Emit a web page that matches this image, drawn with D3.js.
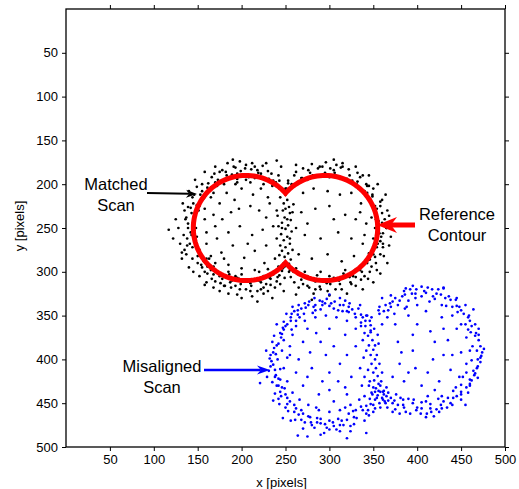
<!DOCTYPE html>
<html>
<head>
<meta charset="utf-8">
<script src="https://cdn.jsdelivr.net/npm/d3@7"></script>
<style>
  body { margin: 0; background: #fff; }
  text { font-family: "Liberation Sans", Arial, Helvetica, sans-serif; }
</style>
</head>
<body>
<svg id="chart" width="519" height="489"></svg>
<script>
// tick values on both axes
const xTicks = [50, 100, 150, 200, 250, 300, 350, 400, 450, 500];
const yTicks = [50, 100, 150, 200, 250, 300, 350, 400, 450, 500];

// reference contour: two overlapping circles [cx, cy, r]
const contourCircles = [[205, 250, 60], [295, 250, 60]];

// matched scan points [x, y]
const matchedScan = [
  [249,294],[246,299],[242,294],[243,304],[236,303],[240,311],[232,307],[225,305],[228,314],[222,312],
  [216,310],[218,322],[211,316],[205,310],[205,320],[199,314],[195,307],[193,316],[189,310],[181,316],
  [186,303],[178,308],[175,302],[170,311],[168,303],[168,294],[161,302],[161,294],[154,292],[163,285],
  [156,284],[144,285],[150,282],[152,275],[144,272],[135,275],[146,266],[138,262],[149,260],[142,255],
  [139,250],[147,250],[144,245],[137,238],[143,233],[151,230],[142,227],[149,224],[144,215],[157,216],
  [155,208],[149,203],[162,207],[162,199],[172,202],[173,195],[169,188],[180,196],[182,186],[189,189],
  [195,194],[193,181],[199,185],[205,189],[205,178],[211,183],[215,193],[222,188],[224,179],[226,194],
  [234,188],[236,196],[243,196],[243,205],[250,205],
  [250,212],[252,218],[248,222],[254,226],[247,230],[255,233],[249,238],[256,241],[246,244],[253,247],
  [250,251],[257,254],[245,257],[252,260],[248,264],[255,268],[250,272],[246,276],[253,279],[249,283],
  [256,286],[251,290],[247,296],[254,300],[244,215],[259,223],[241,236],[262,250],[240,262],[258,275],
  [243,281],[251,205],[253,196],[249,307],
  [251,206],[253,199],[261,201],[260,190],[268,193],[275,195],[270,182],[278,187],[284,190],[289,180],
  [295,187],[300,192],[301,182],[306,187],[313,181],[316,194],[323,190],[326,196],[332,187],[332,197],
  [333,205],[343,202],[343,210],[349,212],[347,220],[358,220],[354,228],[360,233],[353,240],[360,244],
  [356,250],[365,250],[361,256],[354,260],[361,268],[354,272],[358,280],[345,279],[352,283],[346,286],
  [348,294],[337,292],[337,300],[329,298],[336,309],[327,305],[324,312],[316,307],[312,314],[305,307],
  [307,320],[301,314],[295,310],[289,317],[284,311],[277,318],[275,305],[268,309],[265,303],[256,306],
  [255,298],[254,291],
  [165,215],[175,222],[183,210],[192,218],[200,205],[213,212],[222,205],[230,215],[168,235],[178,240],
  [188,232],[197,228],[210,225],[220,230],[228,238],[160,255],[172,262],[185,255],[198,248],[212,258],
  [224,252],[236,248],[165,282],[177,278],[190,270],[203,284],[215,276],[228,270],[238,285],[185,292],
  [200,296],[215,298],[226,290],[170,248],[232,222],[193,200],[180,285],[207,268],[158,228],[240,230],
  [270,210],[282,205],[298,208],[312,212],[325,210],[336,222],[268,232],[284,228],[300,225],[318,235],
  [330,240],[342,245],[272,258],[290,262],[310,255],[325,262],[338,268],[265,280],[280,285],[298,280],
  [314,288],[328,282],[340,258],[305,240],[290,300],[318,298],[275,245],[335,232],
  [125,240],[117,252],[130,268],[133,222],[140,208],[147,195],[158,186],[170,180],[184,176],[198,174],
  [212,176],[228,176],[245,180],[262,178],[280,177],[296,175],[315,176],[330,180],[345,190],[355,200],
  [364,212],[368,236],[370,260],[366,290],[358,302],[350,312],[338,320],[320,325],[300,327],[282,325],
  [265,318],[248,322],[235,330],[218,334],[200,330],[185,325],[168,318],[152,305],[140,295],[132,285],
  [122,262],[238,318],[372,246],[262,326],[225,325],[190,172],[240,173],[305,172],[280,332],[158,315],
  [147,235],[143,258],[150,275],[157,288],[165,298],[175,305],[187,312],[197,308],[210,313],[220,310],
  [233,308],[240,300],[145,222],[153,212],[161,204],[170,198],[183,190],[195,188],[208,192],[219,187],
  [231,194],[239,198],[139,245],[141,268],[155,295],[135,230],[180,316],[225,318],[175,186],[215,180],
  [137,280],[148,250],[152,225],[160,285],[205,195],[193,305],[245,295],[235,202],
  [295,188],[307,190],[320,194],[331,200],[340,208],[347,218],[352,230],[356,242],[357,256],[355,268],
  [350,280],[343,290],[335,298],[323,306],[311,310],[297,313],[283,310],[270,305],[259,300],[281,190],
  [269,193],[257,200],[363,240],[361,272],[353,290],[340,305],[325,314],[290,320],[315,180],[345,202],
  [358,225],[275,316],[305,184],[287,182],[349,214],[359,260],[365,250],[335,192],
  [150,290],[158,300],[166,308],[176,313],[188,318],[198,320],[210,322],[222,320],[233,315],[241,306],
  [138,270],[134,258],[136,240],[139,226],[146,212],[155,200],[166,192],[178,184],[191,180],[204,182],
  [218,184],[230,185],[242,190],[128,250],[132,278],[145,300],[160,312],[175,322],[195,326],[212,328],
  [230,322],[244,314],[158,240],[160,268],[170,290],[185,300],[200,303],[220,300],[230,297],[168,210],
  [180,200],[195,198],[210,198],[225,200],
  [262,186],[276,184],[292,180],[308,178],[322,183],[338,190],[350,205],[360,218],[366,230],[368,270],
  [362,282],[354,298],[344,308],[330,316],[314,320],[298,322],[284,320],[270,314],[260,312],[342,200],
  [352,225],[358,265],[346,300],[330,306],[316,302],[300,305],[286,304],[272,300],[262,296],[352,250],
  [348,238],[350,262],[250,228],[246,250],[255,262],[248,290],[252,240],[244,270],[258,232],[242,248]
];

// misaligned scan points [x, y]
const misalignedScan = [
  [347,451],[352,456],[342,453],[342,462],[336,454],[340,470],[331,467],[327,459],[328,474],[320,469],
  [324,482],[316,475],[310,468],[312,482],[305,476],[300,480],[300,470],[294,484],[290,473],[283,478],
  [286,467],[279,472],[270,479],[276,465],[268,469],[268,458],[261,469],[260,460],[253,459],[260,452],
  [252,451],[243,451],[252,444],[245,442],[249,433],[238,439],[242,430],[235,426],[244,423],[239,418],
  [231,413],[244,411],[236,406],[241,400],[232,399],[239,394],[237,387],[246,390],[242,382],[237,373],
  [248,378],[246,371],[247,364],[257,366],[248,357],[256,356],[257,348],[262,356],[264,349],[265,338],
  [271,348],[273,341],[281,347],[277,334],[284,338],[289,333],[290,343],[295,336],[300,326],[300,339],
  [306,334],[310,344],[312,330],[316,338],[323,336],[320,345],[326,343],[335,338],[329,348],[336,349],
  [342,350],[336,358],[348,352],[347,361],[347,369],
  [343,350],[346,356],[341,362],[347,367],[344,373],[349,378],[345,384],[350,389],[347,395],[352,400],
  [348,405],[353,410],[350,415],[355,419],[351,424],[356,428],[353,433],[358,437],[355,441],[360,444],
  [352,446],[357,450],[362,440],[348,438],[345,430],[359,425],[340,420],[354,395],[342,390],[357,405],
  [346,445],[363,448],[350,452],[340,442],[337,430],[365,432],[360,415],[338,378],[356,382],[351,365],
  [339,398],[344,412],
  [468,390],[473,396],[462,401],[469,408],[464,413],[456,415],[469,421],[460,423],[460,430],[450,429],
  [450,437],[450,446],[441,436],[441,444],[435,444],[434,455],[427,452],[424,445],[422,457],[415,451],
  [411,462],[405,456],[405,449],[399,458],[395,450],[387,460],[384,452],[381,444],[375,457],[374,447],
  [367,447],[367,438],[361,437],[352,437],
  [357,348],[357,340],[367,344],[369,336],[370,327],[380,333],[383,328],[387,319],[390,333],[394,325],
  [399,320],[405,328],[405,317],[410,324],[417,320],[420,331],[427,326],[430,319],[432,330],[433,339],
  [444,332],[445,339],[446,346],[455,338],[453,348],[459,350],[455,360],[462,362],[470,365],[461,369],
  [466,373],[470,378],[463,385],
  [270,380],[285,370],[300,365],[318,372],[330,385],[265,400],[280,410],[296,395],[312,405],[325,420],
  [270,430],[288,440],[305,448],[320,440],[335,410],[278,392],[292,425],[310,425],[262,415],[300,415],
  [318,455],[285,455],[330,365],[275,365],[255,395],
  [375,360],[390,350],[410,345],[428,352],[445,365],[378,380],[395,372],[415,368],[435,378],[450,392],
  [380,405],[398,410],[418,400],[438,412],[385,425],[405,430],[425,425],[440,395],[395,390],[420,435],
  [372,420],[448,420],[388,340],[430,365],
  [221,427],[228,390],[236,447],[247,467],[264,487],[275,488],[290,486],[320,490],[342,484],[410,466],
  [419,465],[472,403],[464,343],[395,316],[430,318],[360,330],[240,360],[258,340],[455,452],
  [238,420],[233,395],[245,375],[251,348],[268,342],[283,330],[297,331],[318,333],[333,342],[341,356],
  [244,437],[250,455],[265,463],[280,475],[297,478],[312,475],[328,466],[338,458],[233,408],[240,430],
  [256,470],[272,472],[290,468],[308,480],[324,476],[345,464],[248,366],[260,345],[276,338],[292,338],
  [305,342],[322,340],[338,352],[242,445],[229,420],[235,380],[252,360],[266,352],[284,344],[315,345],
  [362,345],[375,330],[392,320],[408,322],[422,325],[438,332],[450,344],[460,356],[467,370],[472,385],
  [469,400],[465,418],[456,432],[445,442],[430,448],[415,456],[400,455],[385,455],[372,450],[365,442],
  [378,338],[398,330],[418,328],[440,340],[458,366],[474,392],[460,428],[438,450],[410,448],[390,445],
  [370,340],[385,322],[445,330],[468,410],[425,460],[378,452],
  [234,402],[238,412],[242,422],[246,432],[250,440],[255,448],[262,456],[270,462],[278,466],[286,472],
  [295,474],[304,472],[314,470],[322,462],[330,458],[236,392],[240,384],[244,370],[250,362],[256,352],
  [264,344],[272,336],[282,340],[292,334],[302,336],[312,338],[322,346],[330,352],[336,362],[340,370],
  [248,410],[252,398],[255,385],[258,372],[262,362],[272,356],[284,352],[296,350],[308,352],[320,356],
  [252,425],[258,438],[266,446],[276,452],[288,458],[300,460],[312,458],[324,452],[334,446],
  [344,458],[350,460],[358,455],[366,455],[372,460],[380,462],[392,462],[404,462],[416,460],[428,456],
  [440,452],[450,440],[458,438],[462,424],[466,416],[472,398],[476,388],[470,372],[466,360],[458,352],
  [448,340],[436,328],[424,320],[412,318],[398,325],[386,326],[372,334],[364,338],[356,344],
  [364,450],[370,444],[376,440],[384,446],[396,446],[412,442],[428,442],[444,432],[452,420],[456,405],
  [460,390],[456,375],[450,360],[440,350],[428,338],[414,334],[400,338],[386,342],[374,348],[366,352],
  [360,360],[355,372],[352,384],[349,440],[354,444],[358,430],[362,436],[346,425],[350,432],[356,436],
  [361,446],[290,380],[305,385],[320,395],[275,420],[300,435],[318,432],[400,360],[420,380],[390,415],
  [412,415],[430,395],[382,392]
];

const margin = {l: 66, r: 14, t: 9, b: 42};
const width = 519;
const height = 489;

const svg = d3.select("#chart");

const x = d3.scaleLinear().domain([0, 500]).range([margin.l, width - margin.r]);
const y = d3.scaleLinear().domain([0, 500]).range([margin.t, height - margin.b]);

// axes, ticks point outward on all four sides
svg.append("g")
  .attr("transform", `translate(0,${y(500)})`)
  .call(d3.axisBottom(x).tickValues(xTicks).tickSize(4).tickPadding(4));
svg.append("g")
  .attr("transform", `translate(0,${y(0)})`)
  .call(d3.axisTop(x).tickValues(xTicks).tickSize(4).tickFormat(""));
svg.append("g")
  .attr("transform", `translate(${x(0)},0)`)
  .call(d3.axisLeft(y).tickValues(yTicks).tickSize(4).tickPadding(4));
svg.append("g")
  .attr("transform", `translate(${x(500)},0)`)
  .call(d3.axisRight(y).tickValues(yTicks).tickSize(4).tickFormat(""));

svg.selectAll(".domain").remove();
svg.selectAll(".tick line").attr("stroke", "#000").attr("stroke-width", 1);
svg.selectAll(".tick text")
  .attr("fill", "#000")
  .style("font-size", "13px")
  .style("font-family", "'Liberation Sans', Arial, sans-serif");

svg.append("rect")
  .attr("x", x(0)).attr("y", y(0))
  .attr("width", x(500) - x(0)).attr("height", y(500) - y(0))
  .attr("fill", "none").attr("stroke", "#000").attr("stroke-width", 1.3);

// axis titles
svg.append("text")
  .attr("x", x(250) - 4).attr("y", 487)
  .attr("text-anchor", "middle").style("font-size", "13px")
  .text("x [pixels]");
svg.append("text")
  .attr("transform", `translate(24,${y(250) - 2}) rotate(-90)`)
  .attr("text-anchor", "middle").style("font-size", "13px")
  .text("y [pixels]");

// matched scan
svg.append("g").selectAll("circle")
  .data(matchedScan)
  .join("circle")
  .attr("cx", d => x(d[0]))
  .attr("cy", d => y(d[1]))
  .attr("r", 1.35)
  .attr("fill", "#000");

// misaligned scan
svg.append("g").selectAll("circle")
  .data(misalignedScan)
  .join("circle")
  .attr("cx", d => x(d[0]))
  .attr("cy", d => y(d[1]))
  .attr("r", 1.35)
  .attr("fill", "#0000ff");

// reference contour = outer boundary of the two circles
function contourPoints(circles) {
  const [a, b] = circles;
  const d = b[0] - a[0];
  const t0 = Math.acos((d / 2) / a[2]);
  const pts = [];
  const n = 90;
  for (let i = 0; i <= n; i++) {
    const t = t0 + (2 * Math.PI - 2 * t0) * i / n;
    pts.push([a[0] + a[2] * Math.cos(t), a[1] - a[2] * Math.sin(t)]);
  }
  for (let i = 0; i <= n; i++) {
    const t = Math.PI + t0 + (2 * Math.PI - 2 * t0) * i / n;
    pts.push([b[0] + b[2] * Math.cos(t), b[1] - b[2] * Math.sin(t)]);
  }
  return pts;
}

svg.append("path")
  .datum(contourPoints(contourCircles))
  .attr("d", d3.line().x(d => x(d[0])).y(d => y(d[1])).curve(d3.curveLinearClosed))
  .attr("fill", "none")
  .attr("stroke", "#ff0000")
  .attr("stroke-width", 5)
  .attr("stroke-linejoin", "miter");

// annotations
function arrow(x1, y1, x2, y2, color, lw, hl, hw) {
  const ang = Math.atan2(y2 - y1, x2 - x1);
  const ca = Math.cos(ang), sa = Math.sin(ang);
  const bx = x2 - hl * ca, by = y2 - hl * sa;
  const nx = x2 - hl * 0.7 * ca, ny = y2 - hl * 0.7 * sa;
  svg.append("line")
    .attr("x1", x1).attr("y1", y1).attr("x2", nx).attr("y2", ny)
    .attr("stroke", color).attr("stroke-width", lw);
  svg.append("path")
    .attr("d", `M${x2},${y2}L${bx - hw * sa},${by + hw * ca}L${nx},${ny}L${bx + hw * sa},${by - hw * ca}Z`)
    .attr("fill", color);
}

function label(lines, cx, by) {
  const t = svg.append("text").attr("text-anchor", "middle").style("font-size", "16.5px");
  lines.forEach((s, i) => t.append("tspan").attr("x", cx).attr("y", by + i * 20.5).text(s));
}

label(["Matched", "Scan"], 116, 190);
arrow(147, 193, 197, 194, "#000", 2, 11, 4);

label(["Reference", "Contour"], 457, 220);
arrow(415, 225, 377, 225, "#ff0000", 5, 20, 8);

label(["Misaligned", "Scan"], 162, 372);
arrow(204, 370, 270, 370, "#0000ff", 2.5, 13, 4.5);
</script>
</body>
</html>
